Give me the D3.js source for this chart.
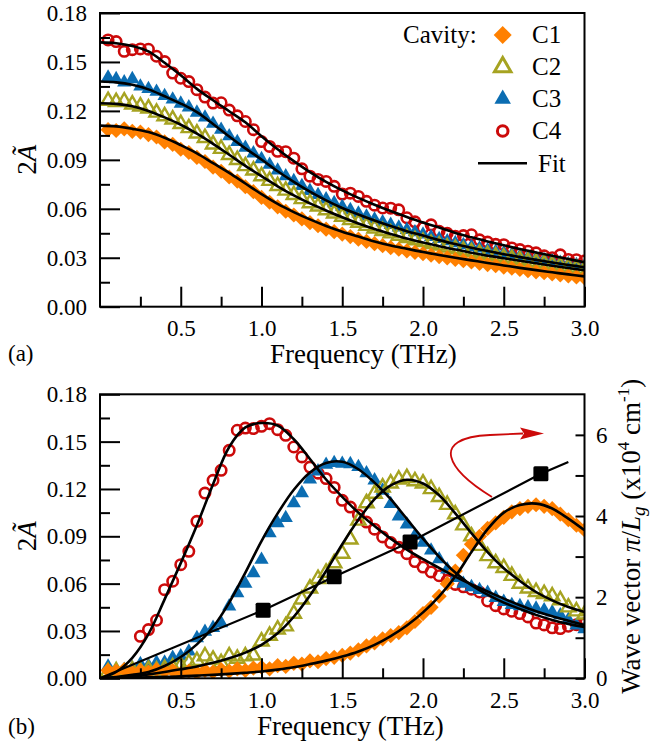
<!DOCTYPE html>
<html>
<head>
<meta charset="utf-8">
<script src="https://cdn.jsdelivr.net/npm/d3@7/dist/d3.min.js"></script>
<style>
  svg text, svg tspan { font-family: 'Liberation Serif', 'Times New Roman', serif !important; }
</style>
</head>
<body style="margin:0;background:#fff">
<svg id="chart" width="650" height="748" font-family="Liberation Serif"></svg>
<script>
// ---------------- data ----------------
// measured frequency grid (THz)
const FREQ = [0.05,0.10,0.15,0.20,0.25,0.30,0.35,0.40,0.45,0.50,
              0.55,0.60,0.65,0.70,0.75,0.80,0.85,0.90,0.95,1.00,
              1.05,1.10,1.15,1.20,1.25,1.30,1.35,1.40,1.45,1.50,
              1.55,1.60,1.65,1.70,1.75,1.80,1.85,1.90,1.95,2.00,
              2.05,2.10,2.15,2.20,2.25,2.30,2.35,2.40,2.45,2.50,
              2.55,2.60,2.65,2.70,2.75,2.80,2.85,2.90,2.95,3.00];

// frequencies at which the fitted curves are tabulated (THz)
const FIT_FREQ = [0.0,0.1,0.2,0.3,0.4,0.5,0.6,0.7,0.8,0.9,1.0,1.1,1.2,1.3,1.4,1.5,
                  1.6,1.7,1.8,1.9,2.0,2.1,2.2,2.3,2.4,2.5,2.6,2.7,2.8,2.9,3.0];

// panel (a): 2A~ spectra
const TOP_C1 = [0.1085,0.1080,0.1090,0.1075,0.1070,0.1055,0.1040,0.1010,0.0995,0.0965,
                0.0945,0.0915,0.0890,0.0855,0.0830,0.0795,0.0770,0.0735,0.0705,0.0670,
                0.0640,0.0612,0.0585,0.0562,0.0538,0.0515,0.0496,0.0475,0.0460,0.0445,
                0.0430,0.0414,0.0400,0.0386,0.0374,0.0362,0.0352,0.0342,0.0333,0.0325,
                0.0316,0.0307,0.0299,0.0290,0.0282,0.0274,0.0266,0.0258,0.0251,0.0243,
                0.0236,0.0228,0.0221,0.0214,0.0208,0.0201,0.0195,0.0188,0.0182,0.0177];
const TOP_C2 = [0.1262,0.1255,0.1258,0.1240,0.1228,0.1215,0.1190,0.1168,0.1148,0.1120,
                0.1095,0.1062,0.1035,0.0995,0.0968,0.0930,0.0900,0.0862,0.0835,0.0800,
                0.0772,0.0740,0.0712,0.0685,0.0660,0.0635,0.0615,0.0592,0.0572,0.0552,
                0.0532,0.0515,0.0496,0.0480,0.0464,0.0450,0.0435,0.0422,0.0408,0.0397,
                0.0385,0.0375,0.0363,0.0354,0.0344,0.0335,0.0325,0.0317,0.0308,0.0300,
                0.0293,0.0285,0.0277,0.0270,0.0262,0.0255,0.0248,0.0241,0.0234,0.0227];
const TOP_C3 = [0.1405,0.1395,0.1375,0.1395,0.1350,0.1335,0.1318,0.1292,0.1270,0.1245,
                0.1222,0.1190,0.1160,0.1122,0.1085,0.1045,0.1010,0.0975,0.0940,0.0905,
                0.0870,0.0835,0.0800,0.0770,0.0740,0.0710,0.0685,0.0658,0.0635,0.0612,
                0.0592,0.0572,0.0553,0.0535,0.0518,0.0502,0.0486,0.0471,0.0457,0.0443,
                0.0428,0.0415,0.0402,0.0390,0.0378,0.0367,0.0357,0.0346,0.0337,0.0328,
                0.0319,0.0310,0.0301,0.0293,0.0285,0.0277,0.0270,0.0262,0.0255,0.0248];
const TOP_C4 = [0.1635,0.1625,0.1565,0.1575,0.1580,0.1578,0.1535,0.1502,0.1432,0.1400,
                0.1380,0.1330,0.1285,0.1248,0.1250,0.1205,0.1170,0.1135,0.1085,0.1012,
                0.0982,0.0952,0.0950,0.0910,0.0845,0.0800,0.0780,0.0768,0.0738,0.0690,
                0.0696,0.0676,0.0646,0.0622,0.0605,0.0604,0.0594,0.0545,0.0520,0.0484,
                0.0502,0.0462,0.0450,0.0432,0.0436,0.0441,0.0410,0.0396,0.0382,0.0380,
                0.0360,0.0350,0.0340,0.0330,0.0312,0.0300,0.0318,0.0290,0.0288,0.0280];

const TOP_FIT_C1 = [0.1110,0.1105,0.1090,0.1070,0.1035,0.0990,0.0940,0.0880,0.0820,0.0755,0.0690,
                    0.0630,0.0580,0.0535,0.0495,0.0460,0.0430,0.0400,0.0375,0.0355,0.0335,
                    0.0317,0.0300,0.0284,0.0268,0.0253,0.0238,0.0224,0.0211,0.0198,0.0186];
const TOP_FIT_C2 = [0.1247,0.1243,0.1228,0.1200,0.1160,0.1115,0.1060,0.0998,0.0931,0.0863,0.0800,
                    0.0738,0.0682,0.0633,0.0590,0.0548,0.0510,0.0476,0.0446,0.0418,0.0393,
                    0.0371,0.0350,0.0331,0.0313,0.0297,0.0282,0.0266,0.0251,0.0237,0.0223];
const TOP_FIT_C3 = [0.1380,0.1375,0.1360,0.1332,0.1290,0.1245,0.1192,0.1120,0.1043,0.0970,0.0902,
                    0.0830,0.0765,0.0705,0.0652,0.0605,0.0565,0.0528,0.0494,0.0463,0.0436,
                    0.0408,0.0384,0.0361,0.0341,0.0322,0.0304,0.0287,0.0271,0.0256,0.0242];
const TOP_FIT_C4 = [0.1620,0.1615,0.1598,0.1565,0.1495,0.1418,0.1335,0.1265,0.1198,0.1130,0.1045,
                    0.0965,0.0892,0.0825,0.0765,0.0713,0.0667,0.0625,0.0586,0.0550,0.0516,
                    0.0485,0.0452,0.0425,0.0400,0.0376,0.0353,0.0332,0.0312,0.0292,0.0272];

// panel (b): 2A~ spectra
const BOT_C1 = [0.0050,0.0045,0.0055,0.0035,0.0050,0.0040,0.0055,0.0045,0.0050,0.0030,
                0.0045,0.0035,0.0050,0.0040,0.0055,0.0045,0.0060,0.0050,0.0065,0.0070,
                0.0060,0.0080,0.0075,0.0095,0.0090,0.0110,0.0105,0.0125,0.0133,0.0145,
                0.0160,0.0180,0.0205,0.0225,0.0250,0.0270,0.0290,0.0320,0.0360,0.0410,
                0.0450,0.0520,0.0600,0.0680,0.0780,0.0850,0.0900,0.0950,0.0985,0.1020,
                0.1055,0.1075,0.1090,0.1100,0.1090,0.1075,0.1040,0.1005,0.0970,0.0940];
const BOT_C2 = [0.0040,0.0045,0.0035,0.0050,0.0045,0.0055,0.0050,0.0060,0.0070,0.0080,
                0.0097,0.0110,0.0140,0.0119,0.0097,0.0140,0.0125,0.0140,0.0145,0.0234,
                0.0270,0.0310,0.0330,0.0410,0.0500,0.0570,0.0630,0.0670,0.0730,0.0790,
                0.0880,0.1000,0.1110,0.1170,0.1210,0.1235,0.1260,0.1270,0.1250,0.1235,
                0.1200,0.1150,0.1100,0.1040,0.0970,0.0900,0.0840,0.0775,0.0730,0.0700,
                0.0650,0.0600,0.0570,0.0548,0.0535,0.0520,0.0495,0.0450,0.0425,0.0405];
const BOT_C3 = [0.0075,0.0050,0.0055,0.0065,0.0090,0.0080,0.0100,0.0100,0.0130,0.0140,
                0.0170,0.0255,0.0295,0.0320,0.0350,0.0456,0.0540,0.0600,0.0667,0.0752,
                0.0920,0.0984,0.1016,0.1110,0.1174,0.1260,0.1312,0.1354,0.1365,0.1360,
                0.1358,0.1340,0.1300,0.1255,0.1190,0.1105,0.1027,0.0975,0.0905,0.0860,
                0.0810,0.0755,0.0690,0.0636,0.0600,0.0578,0.0560,0.0543,0.0510,0.0485,
                0.0465,0.0458,0.0450,0.0442,0.0432,0.0418,0.0400,0.0372,0.0335,0.0312];
const BOT_C4 = [null,null,null,null,0.0266,0.0309,0.0368,0.0562,0.0615,0.0720,
                0.0805,0.0995,0.1174,0.1255,0.1318,0.1445,0.1572,0.1586,0.1583,0.1597,
                0.1614,0.1576,0.1540,0.1466,0.1403,0.1339,0.1300,0.1266,0.1210,0.1128,
                0.1085,0.1035,0.0990,0.0945,0.0896,0.0860,0.0830,0.0790,0.0740,0.0705,
                0.0674,0.0650,0.0621,0.0595,0.0580,0.0565,0.0547,0.0490,0.0460,0.0440,
                0.0425,0.0410,0.0389,0.0350,0.0338,0.0320,0.0315,0.0330,0.0340,0.0345];

const BOT_FIT_C1 = [0.0000,0.0002,0.0004,0.0006,0.0009,0.0012,0.0017,0.0022,0.0028,0.0035,0.0043,
                    0.0055,0.0070,0.0090,0.0112,0.0138,0.0170,0.0212,0.0268,0.0335,0.0418,
                    0.0520,0.0645,0.0800,0.0945,0.1050,0.1098,0.1107,0.1076,0.1012,0.0938];
const BOT_FIT_C2 = [0.0000,0.0004,0.0012,0.0025,0.0040,0.0057,0.0075,0.0098,0.0127,0.0163,0.0212,
                    0.0285,0.0390,0.0525,0.0680,0.0850,0.1005,0.1135,0.1222,0.1258,0.1235,
                    0.1160,0.1045,0.0920,0.0800,0.0698,0.0617,0.0547,0.0494,0.0452,0.0420];
const BOT_FIT_C3 = [0.0000,0.0008,0.0022,0.0040,0.0078,0.0135,0.0215,0.0325,0.0480,0.0670,0.0870,
                    0.1045,0.1195,0.1305,0.1365,0.1372,0.1325,0.1240,0.1135,0.1010,0.0885,
                    0.0770,0.0670,0.0590,0.0530,0.0480,0.0440,0.0402,0.0370,0.0345,0.0325];
const BOT_FIT_C4 = [0.0000,0.0040,0.0130,0.0280,0.0500,0.0730,0.0970,0.1230,0.1466,0.1590,0.1618,
                    0.1602,0.1515,0.1390,0.1260,0.1150,0.1050,0.0965,0.0885,0.0815,0.0755,
                    0.0700,0.0645,0.0595,0.0550,0.0505,0.0463,0.0425,0.0393,0.0365,0.0338];

// wave vector pi/Lg (x10^4 cm^-1) at the resonance peak of each cavity
const PEAK_FREQ   = [1.01, 1.45, 1.92, 2.73];
const WAVE_VECTOR = [1.68, 2.50, 3.36, 5.04];
// guide line through the wave-vector points
const WV_LINE_FREQ = [0, 1.01, 1.45, 1.92, 2.73, 2.90];
const WV_LINE_K    = [0, 1.68, 2.50, 3.36, 5.04, 5.33];

// axes ticks
const X_TICKS  = [0.5, 1.0, 1.5, 2.0, 2.5, 3.0];
const X_MINOR  = [0.25, 0.75, 1.25, 1.75, 2.25, 2.75];
const Y_TICKS  = [0.00, 0.03, 0.06, 0.09, 0.12, 0.15, 0.18];
const Y_MINOR  = [0.015, 0.045, 0.075, 0.105, 0.135, 0.165];
const K_TICKS  = [0, 2, 4, 6];
const K_MINOR  = [1, 3, 5];

const CAVITIES = ["C1", "C2", "C3", "C4"];

// ---------------- styles ----------------
const COLOR = { C1: "#ff8000", C2: "#a6a321", C3: "#0b6db2", C4: "#cc0a0a" };
const FONT = "Liberation Serif";
const TICK_FONT = 23;

const svg = d3.select("#chart");

function addText(parent, size) {
  return parent.append("text").attr("font-family", FONT).attr("font-size", size).attr("fill", "#000");
}

const x = d3.scaleLinear().domain([0, 3]).range([100, 584.5]);

const panels = [
  { id: "a", top: 13,    bottom: 306.7, data: [TOP_C1, TOP_C2, TOP_C3, TOP_C4],
    fits: [TOP_FIT_C1, TOP_FIT_C2, TOP_FIT_C3, TOP_FIT_C4] },
  { id: "b", top: 394.3, bottom: 678.3, data: [BOT_C1, BOT_C2, BOT_C3, BOT_C4],
    fits: [BOT_FIT_C1, BOT_FIT_C2, BOT_FIT_C3, BOT_FIT_C4] }
];

// marker shapes
function markerPath(name, big) {
  if (name === "C1") {
    const r = big ? 9 : 7.6;
    return `M0,${-r}L${r},0L0,${r}L${-r},0Z`;
  }
  return d3.symbol().type(d3.symbolTriangle).size(big ? 118 : 88)();
}

function drawMarker(g, name, cx, cy, big) {
  if (name === "C4") {
    g.append("circle").attr("cx", cx).attr("cy", cy).attr("r", big ? 5.3 : 5.2)
      .attr("fill", "none").attr("stroke", COLOR.C4).attr("stroke-width", big ? 3 : 2.6);
  } else if (name === "C2") {
    g.append("path").attr("d", markerPath(name, big)).attr("transform", `translate(${cx},${cy})`)
      .attr("fill", "none").attr("stroke", COLOR.C2).attr("stroke-width", big ? 3 : 2.4)
      .attr("stroke-linejoin", "miter");
  } else {
    g.append("path").attr("d", markerPath(name, big)).attr("transform", `translate(${cx},${cy})`)
      .attr("fill", COLOR[name]).attr("stroke", "none");
  }
}

function styleAxis(sel) {
  sel.select(".domain").remove();
  sel.attr("font-size", TICK_FONT).attr("font-family", FONT);
  sel.selectAll(".tick line").attr("stroke", "#000").attr("stroke-width", 2);
  sel.selectAll(".tick text").attr("fill", "#000").attr("font-family", FONT);
}

panels.forEach(p => {
  const y = d3.scaleLinear().domain([0, 0.18]).range([p.bottom, p.top]);
  const g = svg.append("g").attr("class", "panel-" + p.id);

  // clip region for the plotted data
  const clipId = "clip-" + p.id;
  svg.append("defs").append("clipPath").attr("id", clipId)
    .append("rect").attr("x", x(0)).attr("y", p.top)
    .attr("width", x(3) - x(0)).attr("height", p.bottom - p.top);

  const plot = g.append("g").attr("clip-path", `url(#${clipId})`);

  // measured points, C4 underneath and C1 on top
  [3, 2, 1, 0].forEach(i => {
    const name = CAVITIES[i];
    const layer = plot.append("g").attr("class", "series-" + name);
    p.data[i].forEach((v, j) => {
      if (v === null) return;
      drawMarker(layer, name, x(FREQ[j]), y(v), false);
    });
  });

  // fitted curves
  const line = d3.line().x(d => x(d[0])).y(d => y(d[1])).curve(d3.curveCatmullRom.alpha(0.5));
  p.fits.forEach(f => {
    plot.append("path").attr("d", line(FIT_FREQ.map((fr, j) => [fr, f[j]])))
      .attr("fill", "none").attr("stroke", "#000").attr("stroke-width", 2.6);
  });

  // x axis (ticks pointing inward)
  const xMajor = g.append("g").attr("transform", `translate(0,${p.bottom})`)
    .call(d3.axisBottom(x).tickValues(X_TICKS).tickSizeInner(-20).tickSizeOuter(0)
      .tickPadding(13).tickFormat(d3.format(".1f")));
  styleAxis(xMajor);
  const xMinor = g.append("g").attr("transform", `translate(0,${p.bottom})`)
    .call(d3.axisBottom(x).tickValues(X_MINOR).tickSizeInner(-10).tickSizeOuter(0).tickFormat(""));
  styleAxis(xMinor);

  // y axis
  const yMajor = g.append("g").attr("transform", `translate(${x(0)},0)`)
    .call(d3.axisLeft(y).tickValues(Y_TICKS).tickSizeInner(-20).tickSizeOuter(0)
      .tickPadding(13).tickFormat(d3.format(".2f")));
  styleAxis(yMajor);
  const yMinor = g.append("g").attr("transform", `translate(${x(0)},0)`)
    .call(d3.axisLeft(y).tickValues(Y_MINOR).tickSizeInner(-10).tickSizeOuter(0).tickFormat(""));
  styleAxis(yMinor);

  // frame
  g.append("rect").attr("x", x(0)).attr("y", p.top)
    .attr("width", x(3) - x(0)).attr("height", p.bottom - p.top)
    .attr("fill", "none").attr("stroke", "#000").attr("stroke-width", 2);

  // y title: 2A~
  const yt = addText(g, 27)
    .attr("transform", `translate(36,${(p.top + p.bottom) / 2}) rotate(-90)`)
    .attr("text-anchor", "middle");
  yt.append("tspan").text("2");
  yt.append("tspan").attr("font-style", "italic").text("\u00C3");
});

// x titles and panel tags
addText(svg, 27).attr("x", 270).attr("y", 363).text("Frequency (THz)");
addText(svg, 27).attr("x", 257).attr("y", 735).text("Frequency (THz)");
addText(svg, 23).attr("x", 8).attr("y", 361).text("(a)");
addText(svg, 23).attr("x", 8).attr("y", 734).text("(b)");

// ---------------- legend (panel a) ----------------
const legend = svg.append("g").attr("class", "legend");
addText(legend, 25).attr("x", 403).attr("y", 42.5).text("Cavity:");
const LEGEND_ROW = [35, 67, 99, 131];
CAVITIES.forEach((name, i) => {
  drawMarker(legend, name, 502.7, LEGEND_ROW[i], true);
  addText(legend, 25).attr("x", 532).attr("y", LEGEND_ROW[i] + 7.7).text(name);
});
legend.append("line").attr("x1", 478).attr("x2", 527).attr("y1", 163.3).attr("y2", 163.3)
  .attr("stroke", "#000").attr("stroke-width", 2.6);
addText(legend, 25).attr("x", 538).attr("y", 171.5).text("Fit");

// ---------------- wave vector (panel b, right axis) ----------------
const pb = panels[1];
const k = d3.scaleLinear().domain([0, 7]).range([pb.bottom, pb.top]);
const gb = svg.select(".panel-b");

const kMajor = gb.append("g").attr("transform", `translate(${x(3)},0)`)
  .call(d3.axisRight(k).tickValues(K_TICKS).tickSizeInner(-9).tickSizeOuter(0)
    .tickPadding(11.5).tickFormat(d3.format("d")));
styleAxis(kMajor);
const kMinor = gb.append("g").attr("transform", `translate(${x(3)},0)`)
  .call(d3.axisRight(k).tickValues(K_MINOR).tickSizeInner(-9).tickSizeOuter(0).tickFormat(""));
styleAxis(kMinor);

const kLine = d3.line().x(d => x(d[0])).y(d => k(d[1]));
gb.append("path").attr("d", kLine(WV_LINE_FREQ.map((f, i) => [f, WV_LINE_K[i]])))
  .attr("fill", "none").attr("stroke", "#000").attr("stroke-width", 2.2);
gb.selectAll("rect.wv").data(PEAK_FREQ).enter().append("rect").attr("class", "wv")
  .attr("x", (d) => x(d) - 7.5).attr("y", (d, i) => k(WAVE_VECTOR[i]) - 7.5)
  .attr("width", 15).attr("height", 15).attr("rx", 1.5).attr("fill", "#000");

// arrow pointing to the right-hand axis
gb.append("path").attr("d", "M492,497 C448,470 428,438 490,435 L523,433.5")
  .attr("fill", "none").attr("stroke", COLOR.C4).attr("stroke-width", 1.8);
gb.append("path").attr("d", "M520,427.5 L544,433.4 L520,439.5 L524,433.5 Z")
  .attr("fill", COLOR.C4);

// right axis title
const rt = addText(svg, 27)
  .attr("transform", `translate(640,${(pb.top + pb.bottom) / 2}) rotate(-90)`)
  .attr("text-anchor", "middle");
rt.append("tspan").text("Wave vector ");
rt.append("tspan").attr("font-style", "italic").text("\u03C0");
rt.append("tspan").text("/");
rt.append("tspan").attr("font-style", "italic").text("L");
rt.append("tspan").attr("font-style", "italic").attr("font-size", 19).attr("dy", 5).text("g");
rt.append("tspan").attr("dy", -5).text(" (x10");
rt.append("tspan").attr("font-size", 17).attr("dy", -11).text("4");
rt.append("tspan").attr("dy", 11).text(" cm");
rt.append("tspan").attr("font-size", 17).attr("dy", -11).text("-1");
rt.append("tspan").attr("dy", 11).text(")");
</script>
</body>
</html>
